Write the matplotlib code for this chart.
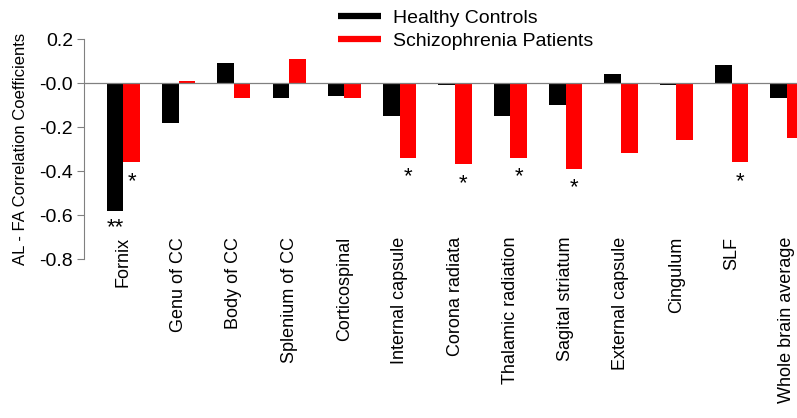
import numpy as np
import matplotlib
matplotlib.use("Agg")
import matplotlib.pyplot as plt
from matplotlib.lines import Line2D

plt.rcParams['font.family'] = ['Liberation Sans', 'DejaVu Sans']

regions = ['Fornix', 'Genu of CC', 'Body of CC', 'Splenium of CC', 'Corticospinal',
           'Internal capsule', 'Corona radiata', 'Thalamic radiation', 'Sagital striatum',
           'External capsule', 'Cingulum', 'SLF', 'Whole brain average']
healthy = [-0.58, -0.18, 0.09, -0.07, -0.06, -0.15, -0.01, -0.15, -0.10, 0.04, -0.01, 0.08, -0.07]
patients = [-0.36, 0.01, -0.07, 0.11, -0.07, -0.34, -0.37, -0.34, -0.39, -0.32, -0.26, -0.36, -0.25]
# significance marks
healthy_sig = ['**', '', '', '', '', '', '', '', '', '', '', '', '']
patients_sig = ['*', '', '', '', '', '*', '*', '*', '*', '', '', '*', '']

fig = plt.figure(figsize=(7.97, 4.18), dpi=100)
ax = fig.add_axes([84/797, 159/418, 0.92, 220/418])

x = np.arange(len(regions))
w = 0.3
ax.bar(x - w/2, healthy, w, color='black')
ax.bar(x + w/2, patients, w, color='#ff0000')

for i in range(len(regions)):
    if healthy_sig[i]:
        ax.text(x[i] - w/2, healthy[i] - 0.03, healthy_sig[i], ha='center', va='top', fontsize=16)
    if patients_sig[i]:
        ax.text(x[i] + w/2, patients[i] - 0.04, patients_sig[i], ha='center', va='top', fontsize=16)

ax.axhline(0, color='#808080', lw=0.9)
ax.set_xlim(-0.71, 12.55)
ax.set_ylim(-0.8, 0.2)
ax.set_yticks(np.arange(-0.8, 0.21, 0.2))
ax.set_yticklabels(['%.1f' % v for v in np.arange(-0.8, 0.21, 0.2)], fontsize=14)
ax.tick_params(axis='y', direction='out', length=5, color='#808080', pad=3)

ax.set_xticks(x)
ax.set_xticklabels(regions, rotation=90, fontsize=13, va='top')
ax.tick_params(axis='x', length=0, pad=-16)

for s in ['top', 'right', 'bottom']:
    ax.spines[s].set_visible(False)
ax.spines['left'].set_color('#808080')

ax.set_ylabel('AL - FA Correlation Coefficients', fontsize=12, labelpad=8)

handles = [Line2D([0], [0], color='black', lw=4.5, solid_capstyle='butt'),
           Line2D([0], [0], color='#ff0000', lw=4.5, solid_capstyle='butt')]
fig.legend(handles, ['Healthy Controls', 'Schizophrenia Patients'], loc='upper left',
           bbox_to_anchor=(320/797, 1.02), frameon=False, fontsize=14,
           handlelength=2.25, handletextpad=0.6, labelspacing=0.3)

fig.savefig('out.png', dpi=100)
